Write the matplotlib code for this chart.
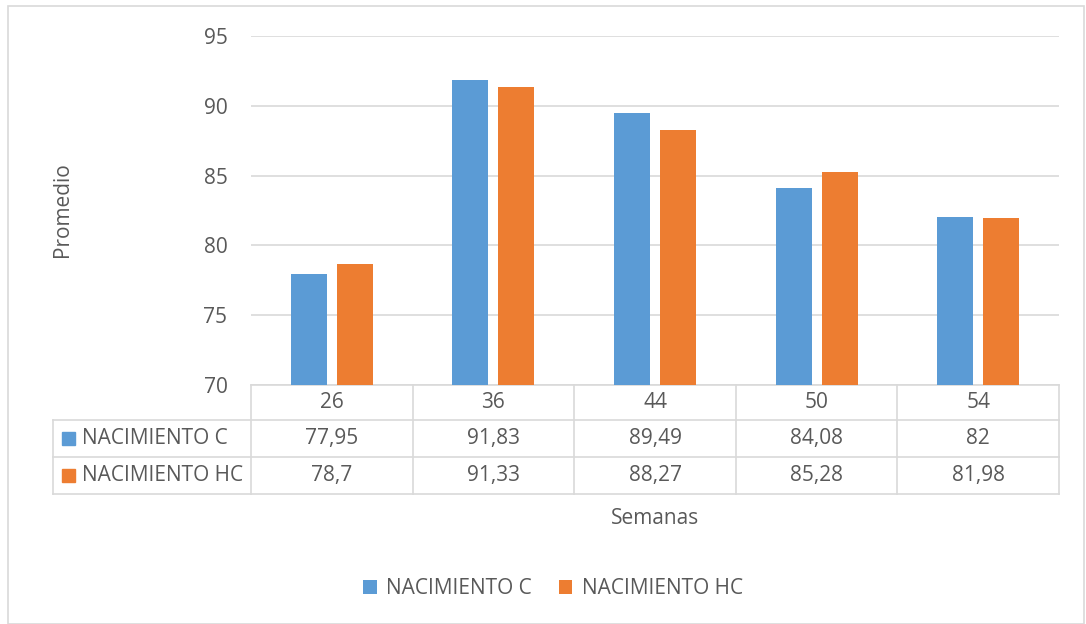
import matplotlib
matplotlib.use("Agg")
import matplotlib.pyplot as plt
from matplotlib.patches import Rectangle
from matplotlib.transforms import blended_transform_factory

weeks = ["26", "36", "44", "50", "54"]
series_names = ["NACIMIENTO C", "NACIMIENTO HC"]
nacimiento_c = [77.95, 91.83, 89.49, 84.08, 82]
nacimiento_hc = [78.7, 91.33, 88.27, 85.28, 81.98]
y_ticks = [70, 75, 80, 85, 90, 95]

colors = ["#5B9BD5", "#ED7D31"]
text_color = "#595959"
line_color = "#D9D9D9"
fs = 15

plt.rcParams["font.family"] = ["Open Sans", "DejaVu Sans"]

W, H = 1086, 624
fig = plt.figure(figsize=(W / 100, H / 100), dpi=100)
fig.patches.append(Rectangle((8 / W, 0), (W - 10) / W, (H - 6) / H, transform=fig.transFigure,
                             fill=False, edgecolor=line_color, linewidth=1.2))

left, right, top, bottom = 251, 1059, 36, 385
ax = fig.add_axes([left / W, (H - bottom) / H, (right - left) / W, (bottom - top) / H])

x = list(range(len(weeks)))
bw = 0.223
off = 0.142
ax.bar([i - off for i in x], nacimiento_c, width=bw, color=colors[0], label=series_names[0], zorder=3)
ax.bar([i + off for i in x], nacimiento_hc, width=bw, color=colors[1], label=series_names[1], zorder=3)

ax.set_xlim(-0.5, len(weeks) - 0.5)
ax.set_ylim(70, 95)
ax.set_yticks(y_ticks)
ax.set_xticks([])
ax.grid(axis="y", color=line_color, linewidth=1.2, zorder=0)
for s in ax.spines.values():
    s.set_visible(False)
ax.tick_params(axis="y", length=0, pad=17, labelsize=fs, labelcolor=text_color)

# data table under the axis
ph = bottom - top
pw = right - left
def ay(py):
    return (bottom - py) / ph

tr = blended_transform_factory(ax.transData, ax.transAxes)
tbl_left = (53 - left) / pw
row_lines = [420, 457, 494]
ax.plot([0, 1], [0, 0], transform=ax.transAxes, color=line_color, lw=1.2, clip_on=False)
for py in row_lines:
    ax.plot([tbl_left, 1], [ay(py), ay(py)], transform=ax.transAxes, color=line_color, lw=1.2, clip_on=False)
for i in range(len(weeks) + 1):
    ax.plot([i - 0.5, i - 0.5], [0, ay(494)], transform=tr, color=line_color, lw=1.2, clip_on=False)
ax.plot([tbl_left, tbl_left], [ay(420), ay(494)], transform=ax.transAxes, color=line_color, lw=1.2, clip_on=False)

def fmt(v):
    return f"{v:g}".replace(".", ",")

for i, w in enumerate(weeks):
    ax.text(i, ay(402.5), w, transform=tr, ha="center", va="center", fontsize=fs, color=text_color)
    ax.text(i, ay(438.5), fmt(nacimiento_c[i]), transform=tr, ha="center", va="center", fontsize=fs, color=text_color)
    ax.text(i, ay(475.5), fmt(nacimiento_hc[i]), transform=tr, ha="center", va="center", fontsize=fs, color=text_color)

for k, (name, py) in enumerate(zip(series_names, [438.5, 475.5])):
    ax.add_patch(Rectangle(((62 - left) / pw, ay(py) - 6.5 / ph), 13 / pw, 13 / ph,
                           transform=ax.transAxes, color=colors[k], clip_on=False))
    ax.text((82 - left) / pw, ay(py), name, transform=ax.transAxes, ha="left", va="center",
            fontsize=fs, color=text_color)

fig.text(62 / W, (H - 210) / H, "Promedio", rotation=90, ha="center", va="center", fontsize=fs, color=text_color)
fig.text((left + right) / 2 / W, (H - 519) / H, "Semanas", ha="center", va="center", fontsize=fs, color=text_color)

fig.legend(loc="center", bbox_to_anchor=(553 / W, (H - 589) / H), ncol=2, frameon=False, fontsize=fs,
           labelcolor=text_color, handlelength=0.65, handleheight=0.65, handletextpad=0.45, columnspacing=1.3)

fig.savefig("out.png", dpi=100)
